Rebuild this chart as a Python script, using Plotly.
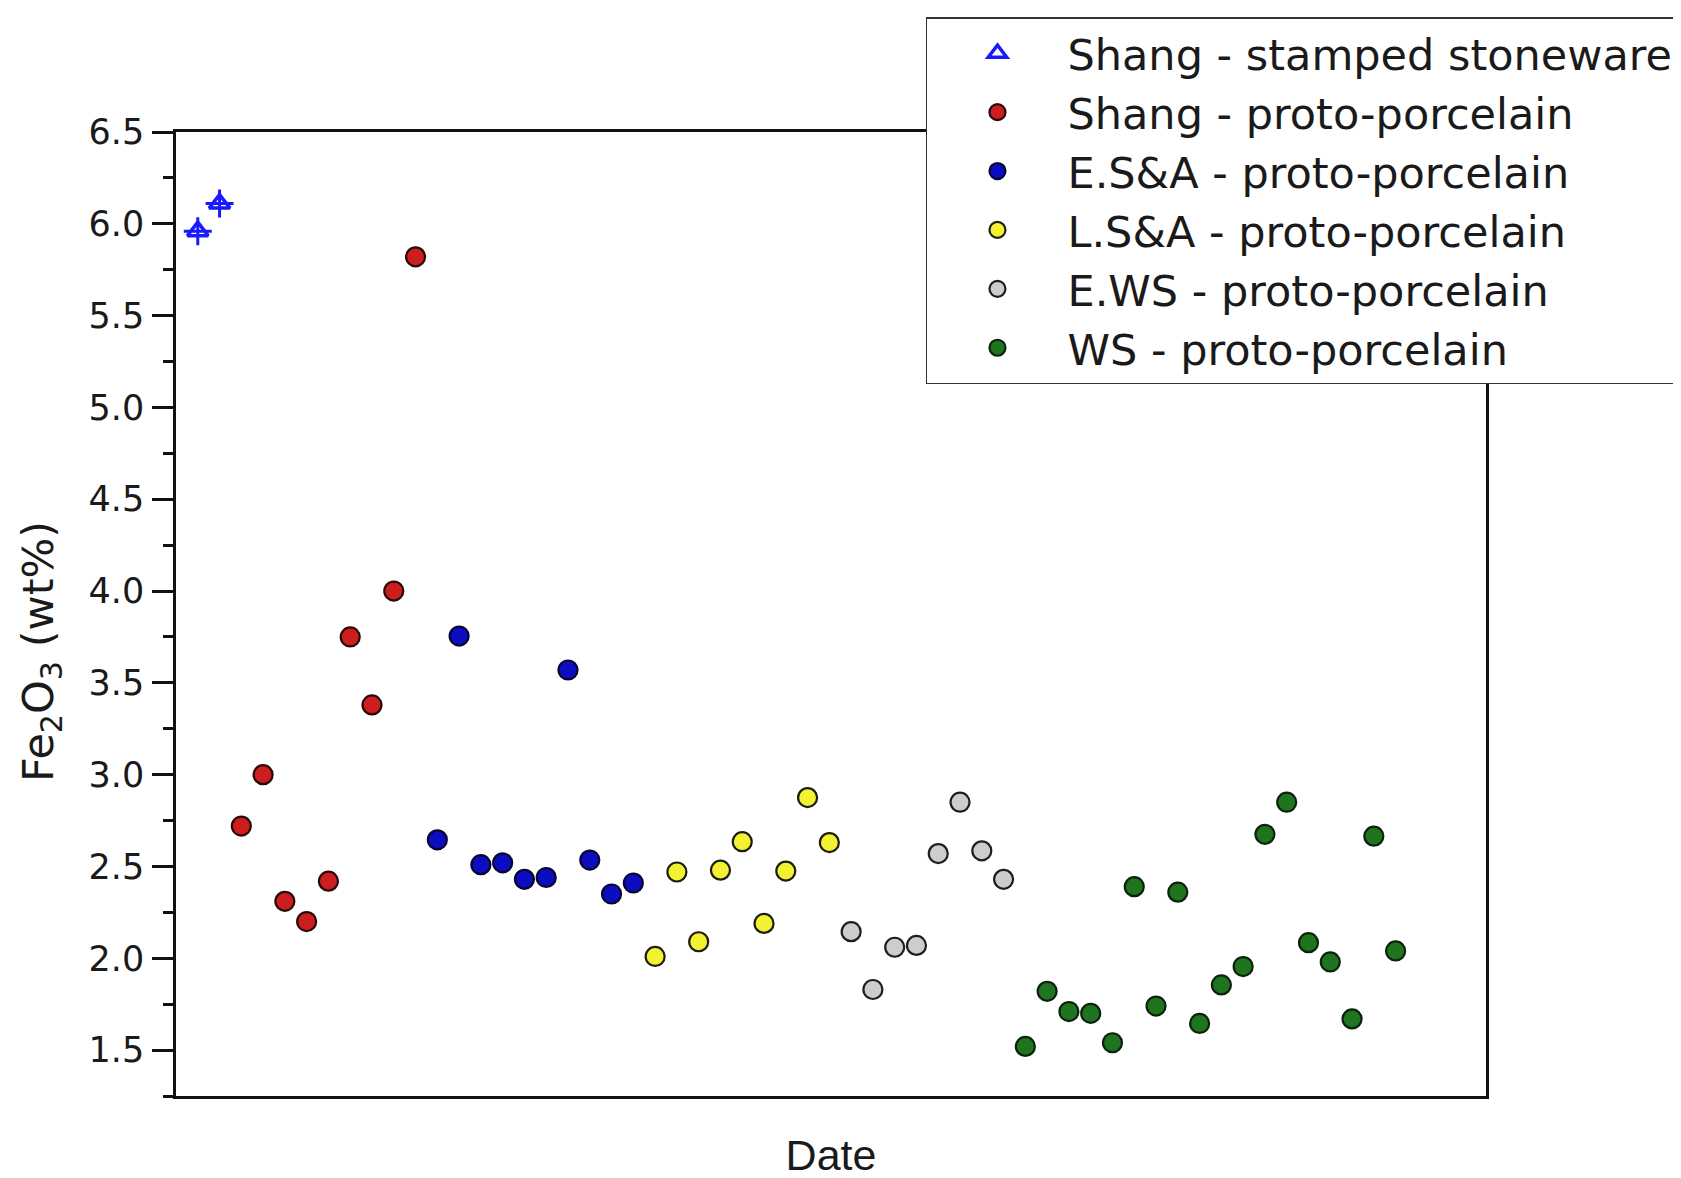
import plotly.graph_objects as go

# ---- data ----
series_names = [
    "Shang - stamped stoneware",
    "Shang - proto-porcelain",
    "E.S&A - proto-porcelain",
    "L.S&A - proto-porcelain",
    "E.WS - proto-porcelain",
    "WS - proto-porcelain",
]
shang_stamped = [5.96, 6.11]
shang_proto = [2.72, 3.00, 2.31, 2.20, 2.42, 3.75, 3.38, 4.00, 5.82]
esa_proto = [2.645, 3.755, 2.51, 2.52, 2.43, 2.44, 3.57, 2.535, 2.35, 2.41]
lsa_proto = [2.01, 2.47, 2.09, 2.48, 2.635, 2.19, 2.475, 2.875, 2.63]
ews_proto = [2.145, 1.83, 2.06, 2.07, 2.57, 2.85, 2.585, 2.43]
ws_proto = [1.52, 1.82, 1.71, 1.70, 1.54, 2.39, 1.74, 2.36, 1.645, 1.855,
            1.955, 2.675, 2.85, 2.085, 1.98, 1.67, 2.665, 2.04]

y_ticks = [1.5, 2.0, 2.5, 3.0, 3.5, 4.0, 4.5, 5.0, 5.5, 6.0, 6.5]
y_minor = [1.25, 1.75, 2.25, 2.75, 3.25, 3.75, 4.25, 4.75, 5.25, 5.75, 6.25]

# ---- styles ----
fills = ["#1a1aff", "#cc1e1e", "#0c0cc0", "#f2f233", "#cdcdcd", "#1f741f"]
edges = ["#1a1aff", "#2a0808", "#06062e", "#1c1c10", "#1e1e1e", "#0c220c"]

all_series = [shang_stamped, shang_proto, esa_proto, lsa_proto, ews_proto, ws_proto]

fig = go.Figure()
start = 1
for i, (name, vals) in enumerate(zip(series_names, all_series)):
    xs = list(range(start, start + len(vals)))
    start += len(vals)
    if i == 0:
        fig.add_trace(go.Scatter(
            x=xs, y=vals, mode="markers", name=name, legendgroup="g0",
            marker=dict(symbol="triangle-up-open", size=18, color=fills[0],
                        line=dict(width=3.5, color=fills[0])),
        ))
        fig.add_trace(go.Scatter(
            x=xs, y=vals, mode="markers", showlegend=False, legendgroup="g0",
            hoverinfo="skip",
            marker=dict(symbol="cross-thin-open", size=20, color=fills[0],
                        line=dict(width=3, color=fills[0])),
        ))
    else:
        fig.add_trace(go.Scatter(
            x=xs, y=vals, mode="markers", name=name,
            marker=dict(symbol="circle", size=19, color=fills[i],
                        line=dict(width=2.2, color=edges[i])),
        ))

sans = "DejaVu Sans, Verdana, sans-serif"
arial = "Liberation Sans, Arial, sans-serif"
ink = "#1a1a1a"

# plot area (figure coords): x 168..1478, y 124..1088
fig.update_layout(
    width=1681, height=1178,
    margin=dict(l=168, r=203, t=124, b=90, autoexpand=False),
    paper_bgcolor="white", plot_bgcolor="white",
    font=dict(family=sans, color=ink),
    showlegend=True,
    legend=dict(
        x=0.5725, y=1.1190, xanchor="left", yanchor="top",
        bgcolor="white", bordercolor="#333333", borderwidth=1.5,
        font=dict(size=43, family=sans, color=ink),
        itemwidth=130, tracegroupgap=0,
    ),
    xaxis=dict(
        range=[0, 60.15], showgrid=False, zeroline=False,
        showticklabels=False, ticks="",
        showline=True, linecolor="#111111", linewidth=2.5, mirror=True,
        title=dict(text="Date", font=dict(size=43, family=arial, color=ink),
                   standoff=43),
        automargin=False,
    ),
    yaxis=dict(
        range=[1.25, 6.5], showgrid=False, zeroline=False,
        tickmode="array", tickvals=y_ticks, ticktext=[f"{v:.1f}" for v in y_ticks],
        ticks="outside", ticklen=21, tickwidth=2.5, tickcolor="#111111",
        tickfont=dict(size=35, family=sans, color=ink),
        ticklabelstandoff=1,
        minor=dict(ticks="outside", ticklen=10, tickwidth=2.5, tickcolor="#111111",
                   tickvals=y_minor),
        showline=True, linecolor="#111111", linewidth=2.5, mirror=True,
        automargin=False,
    ),
)

fig.add_annotation(
    text="Fe<sub>2</sub>O<sub>3</sub> (wt%)",
    xref="paper", yref="paper", x=(33 - 168) / 1310, y=(1088 - 644) / 964,
    xanchor="center", yanchor="middle", textangle=-90, showarrow=False,
    font=dict(size=43, family=sans, color=ink),
)

fig.write_html("out.html")
